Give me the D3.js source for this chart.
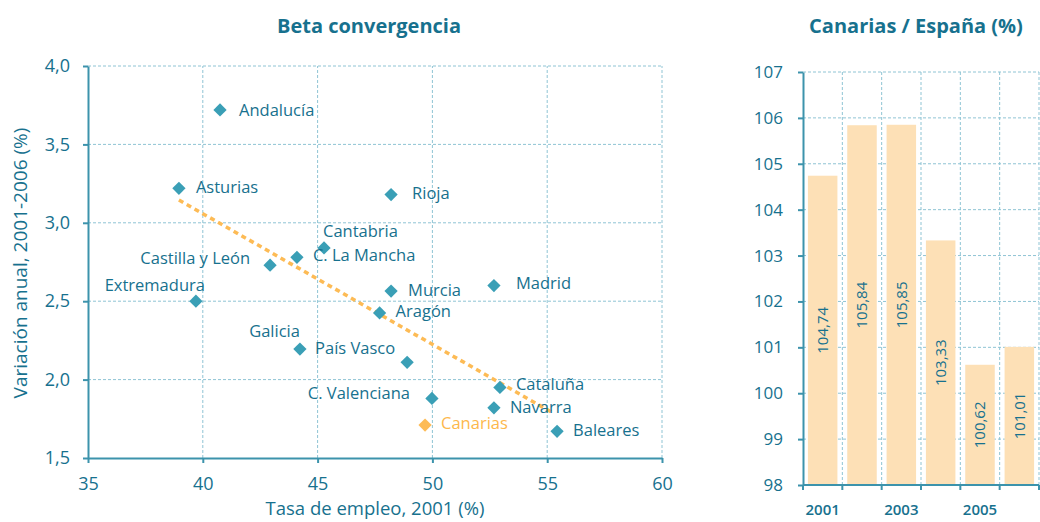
<!DOCTYPE html>
<meta charset="utf-8">
<style>
body{margin:0;background:#fff;}
text{font-family:"Open Sans",sans-serif;fill:#17718e;}
.grid line{stroke:#8fc4d4;stroke-width:1;stroke-dasharray:3,2;}
.axis path,.axis line{stroke:#3c93ac;stroke-width:2;}
.title{font-weight:bold;font-size:20px;}
</style>
<body>
<script src="https://d3js.org/d3.v7.min.js"></script>
<script>

// scatter data
var regions=["Andalucía","Asturias","Rioja","Cantabria","C. La Mancha","Castilla y León","Extremadura","Murcia","Madrid","Aragón","Galicia","País Vasco","Cataluña","C. Valenciana","Navarra","Canarias","Baleares"];
var empleo=[40.75,38.96,48.2,45.28,44.1,42.93,39.7,48.2,52.68,47.7,44.23,48.9,52.94,49.98,52.68,49.68,55.43];
var variacion=[3.72,3.22,3.18,2.84,2.78,2.73,2.50,2.565,2.60,2.425,2.195,2.11,1.95,1.88,1.82,1.71,1.67];
var trendX=[38.96,55.25];
var trendY=[3.145,1.787];
var xTicks=[35,40,45,50,55,60];
var yTicks=[1.5,2.0,2.5,3.0,3.5,4.0];

// bar data
var years=["2001","2002","2003","2004","2005","2006"];
var ratio=[104.74,105.84,105.85,103.33,100.62,101.01];
var ratioTicks=[98,99,100,101,102,103,104,105,106,107];
var yearLabels=["2001","2003","2005"];

// label placement (dx, dy, anchor)
var place={
 "Andalucía":[19,0,"start"],"Asturias":[17,-1,"start"],"Rioja":[21,-1,"start"],
 "Cantabria":[-1,-17,"start"],"C. La Mancha":[16,-2,"start"],"Castilla y León":[-20,-7,"end"],
 "Extremadura":[9,-16,"end"],"Murcia":[17,-1,"start"],"Madrid":[22,-2,"start"],
 "Aragón":[16,-2,"start"],"Galicia":[0,-18,"end"],"País Vasco":[-12,-14,"end"],
 "Cataluña":[16,-3,"start"],"C. Valenciana":[-22,-5,"end"],"Navarra":[16,-1,"start"],
 "Canarias":[16,-2,"start"],"Baleares":[16,-1,"start"]
};

var fmt=d3.format(".1f");
var comma=function(s){return s.replace(".",",");};

var svg=d3.select("body").append("svg").attr("width",1040).attr("height",522);

// ---------- left: scatter ----------
var x=d3.scaleLinear().domain([35,60]).range([88,662]);
var y=d3.scaleLinear().domain([1.5,4.0]).range([458,66]);

var grid=svg.append("g").attr("class","grid");
grid.selectAll(".v").data(xTicks.slice(1)).enter().append("line")
  .attr("x1",d=>x(d)).attr("x2",d=>x(d)).attr("y1",y(1.5)).attr("y2",y(4.0));
grid.selectAll(".h").data(yTicks.slice(1)).enter().append("line")
  .attr("x1",x(35)).attr("x2",x(60)).attr("y1",d=>y(d)).attr("y2",d=>y(d));

svg.append("g").attr("class","axis").attr("transform","translate(0,"+y(1.5)+")")
  .call(d3.axisBottom(x).tickValues(xTicks).tickSize(5).tickSizeOuter(0).tickFormat(d3.format("d")))
  .call(g=>g.selectAll("text").attr("y",32).attr("dy",0).style("font-size","18px"));
svg.append("g").attr("class","axis").attr("transform","translate("+x(35)+",0)")
  .call(d3.axisLeft(y).tickValues(yTicks).tickSize(5).tickPadding(13).tickSizeOuter(0).tickFormat(d=>comma(fmt(d))))
  .call(g=>g.selectAll("text").style("font-size","18px"));
svg.selectAll(".axis text").attr("fill","#17718e");

svg.append("path")
  .datum(d3.range(trendX.length))
  .attr("d",d3.line().x(i=>x(trendX[i])).y(i=>y(trendY[i])))
  .attr("fill","none").attr("stroke","#fdbb55").attr("stroke-width",3.5).attr("stroke-dasharray","5,4");

var pts=svg.append("g").selectAll("g").data(regions).enter().append("g")
  .attr("transform",(d,i)=>"translate("+x(empleo[i])+","+y(variacion[i])+")");
pts.append("path")
  .attr("d",d3.symbol(d3.symbolSquare,88))
  .attr("transform","rotate(45)")
  .attr("fill",d=>d=="Canarias"?"#fdbb55":"#3a9fb6");
pts.append("text")
  .attr("x",d=>place[d][0]).attr("y",d=>place[d][1]).attr("dy","0.35em")
  .attr("text-anchor",d=>place[d][2])
  .style("font-size","16.5px")
  .style("fill",d=>d=="Canarias"?"#fdb84c":null)
  .text(d=>d);

svg.append("text").attr("class","title").attr("x",369).attr("y",33).attr("text-anchor","middle").text("Beta convergencia");
svg.append("text").attr("x",375).attr("y",515).attr("text-anchor","middle").style("font-size","18.5px").text("Tasa de empleo, 2001 (%)");
svg.append("text").attr("transform","translate(27,263) rotate(-90)").attr("text-anchor","middle").style("font-size","19px").text("Variación anual, 2001-2006 (%)");

// ---------- right: bars ----------
var xb=d3.scaleBand().domain(years).range([803,1039]).paddingInner(0.25).paddingOuter(0.125);
var yb=d3.scaleLinear().domain([98,107]).range([485,72]);
var step=xb.step();
var edge=d=>xb(d)-step*0.125;

var g2=svg.append("g").attr("class","grid");
g2.selectAll(".v").data(years).enter().append("line")
  .attr("x1",d=>edge(d)+step).attr("x2",d=>edge(d)+step).attr("y1",yb(98)).attr("y2",yb(107));
g2.selectAll(".h").data(ratioTicks.slice(1)).enter().append("line")
  .attr("x1",803).attr("x2",1039).attr("y1",d=>yb(d)).attr("y2",d=>yb(d));

svg.append("g").selectAll("rect").data(years).enter().append("rect")
  .attr("x",d=>xb(d)).attr("width",xb.bandwidth())
  .attr("y",(d,i)=>yb(ratio[i])).attr("height",(d,i)=>yb(98)-yb(ratio[i]))
  .attr("fill","#fde0b6");

svg.append("g").selectAll("text").data(years).enter().append("text")
  .attr("transform",(d,i)=>"translate("+(xb(d)+xb.bandwidth()/2)+","+((yb(ratio[i])+yb(98))/2)+") rotate(-90)")
  .attr("text-anchor","middle").attr("dy","0.35em").style("font-size","15px")
  .text((d,i)=>comma(ratio[i].toFixed(2)));

svg.append("g").attr("class","axis").attr("transform","translate(803,0)")
  .call(d3.axisLeft(yb).tickValues(ratioTicks).tickSize(5).tickPadding(15).tickSizeOuter(0).tickFormat(d3.format("d")))
  .call(g=>g.selectAll("text").attr("fill","#17718e").style("font-size","17px"));

var xa=svg.append("g").attr("class","axis").attr("transform","translate(0,"+yb(98)+")");
xa.append("line").attr("x1",803).attr("x2",1039);
xa.selectAll(".t").data(["start"].concat(years)).enter().append("line")
  .attr("x1",(d,i)=>i==0?803:edge(d)+step).attr("x2",(d,i)=>i==0?803:edge(d)+step)
  .attr("y1",0).attr("y2",5);
xa.selectAll("text").data(yearLabels).enter().append("text")
  .attr("x",d=>xb(d)+xb.bandwidth()/2).attr("y",30).attr("text-anchor","middle")
  .style("font-size","15px").style("font-weight",600).text(d=>d);

svg.append("text").attr("class","title").attr("x",916).attr("y",33).attr("text-anchor","middle").text("Canarias / España (%)");
</script>
</body>
</html>
